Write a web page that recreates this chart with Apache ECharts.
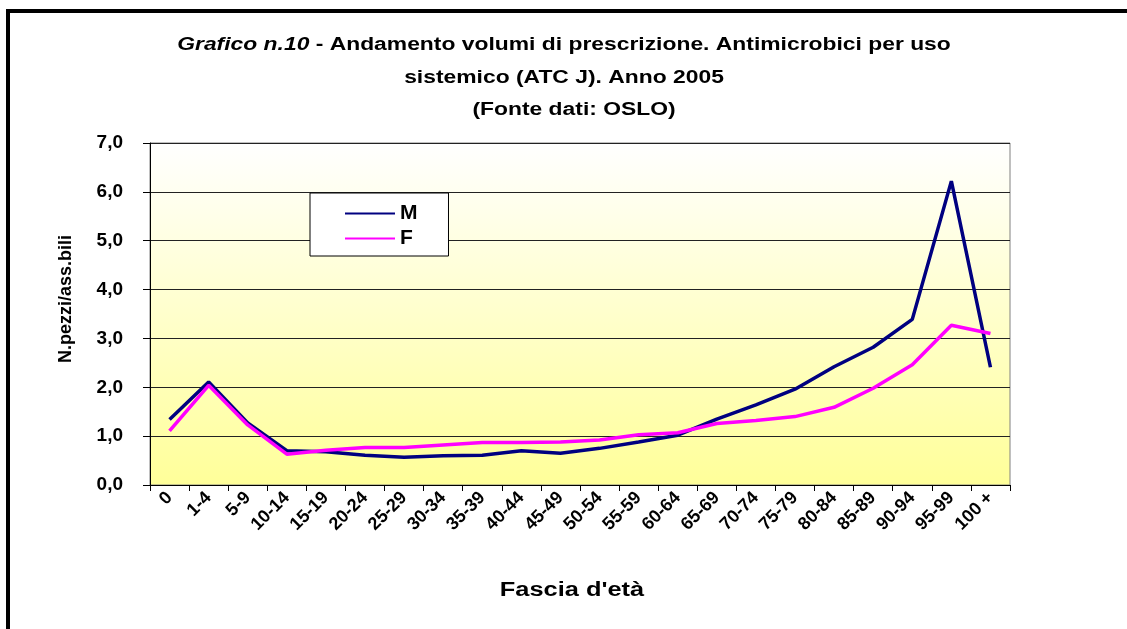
<!DOCTYPE html>
<html>
<head>
    <meta charset="utf-8">
    <title>Grafico n.10 - Antimicrobici per uso sistemico</title>
    <script src="https://cdn.jsdelivr.net/npm/echarts@6/dist/echarts.min.js"></script>
    <style>
        html, body { margin: 0; padding: 0; background: #fff; }
        #main { width: 1127px; height: 629px; }
    </style>
</head>
<body>
<div id="main"></div>
<script>
    // fasce d'età
    var ageGroups = ['0', '1-4', '5-9', '10-14', '15-19', '20-24', '25-29', '30-34', '35-39', '40-44',
        '45-49', '50-54', '55-59', '60-64', '65-69', '70-74', '75-79', '80-84', '85-89', '90-94', '95-99', '100 +'];
    // N. pezzi / assistibili
    var maleValues = [1.34, 2.11, 1.27, 0.70, 0.68, 0.61, 0.57, 0.60, 0.61, 0.70, 0.65,
        0.75, 0.88, 1.02, 1.35, 1.64, 1.96, 2.42, 2.82, 3.39, 6.22, 2.41];
    var femaleValues = [1.11, 2.04, 1.23, 0.63, 0.71, 0.77, 0.77, 0.82, 0.87, 0.87, 0.88,
        0.92, 1.03, 1.07, 1.26, 1.32, 1.40, 1.59, 1.98, 2.46, 3.27, 3.10];
    var yTicks = [0, 1, 2, 3, 4, 5, 6, 7];

    var font = '"Liberation Sans", Arial, sans-serif';
    // il grafico originale ha caratteri più larghi: allargo i testi liberi
    var wide = 1.27;
    var chart = echarts.init(document.getElementById('main'));

    var option = {
        backgroundColor: '#ffffff',
        animation: false,
        graphic: [
            {
                type: 'rect',
                silent: true,
                shape: { x: 8, y: 11, width: 1300, height: 800 },
                style: { fill: 'none', stroke: '#000', lineWidth: 4 }
            },
            {
                type: 'text',
                x: 564, y: 45, scaleX: wide,
                style: {
                    text: '{i|Grafico n.10}{b| - Andamento volumi di prescrizione. Antimicrobici per uso}',
                    align: 'center', verticalAlign: 'middle',
                    rich: {
                        i: { fontFamily: font, fontSize: 18, fontWeight: 'bold', fontStyle: 'italic', fill: '#000' },
                        b: { fontFamily: font, fontSize: 18, fontWeight: 'bold', fill: '#000' }
                    }
                }
            },
            {
                type: 'text',
                x: 564, y: 78, scaleX: wide,
                style: {
                    text: 'sistemico (ATC J). Anno 2005',
                    align: 'center', verticalAlign: 'middle',
                    fontFamily: font, fontSize: 18, fontWeight: 'bold', fill: '#000'
                }
            },
            {
                type: 'text',
                x: 574, y: 110, scaleX: wide,
                style: {
                    text: '(Fonte dati: OSLO)',
                    align: 'center', verticalAlign: 'middle',
                    fontFamily: font, fontSize: 18, fontWeight: 'bold', fill: '#000'
                }
            },
            {
                type: 'text',
                x: 66, y: 299,
                rotation: Math.PI / 2,
                style: {
                    text: 'N.pezzi/ass.bili',
                    align: 'center', verticalAlign: 'middle',
                    fontFamily: font, fontSize: 18, fontWeight: 'bold', fill: '#000'
                }
            },
            {
                type: 'text',
                x: 572, y: 590, scaleX: wide,
                style: {
                    text: "Fascia d'età",
                    align: 'center', verticalAlign: 'middle',
                    fontFamily: font, fontSize: 20, fontWeight: 'bold', fill: '#000'
                }
            }
        ],
        legend: {
            orient: 'vertical',
            left: 310,
            top: 193,
            padding: [10, 31, 7, 35],
            itemWidth: 50,
            itemHeight: 20,
            itemGap: 4,
            itemTextGap: 5,
            backgroundColor: '#ffffff',
            borderColor: '#000',
            borderWidth: 1,
            borderRadius: 0,
            icon: 'path://M0,9 L50,9 L50,11 L0,11 Z',
            textStyle: { fontFamily: font, fontSize: 21, fontWeight: 'bold', color: '#000' },
            data: ['M', 'F']
        },
        grid: {
            left: 150,
            right: 117,
            top: 143,
            bottom: 144,
            show: true,
            borderColor: '#808080',
            borderWidth: 1,
            backgroundColor: new echarts.graphic.LinearGradient(0, 0, 0, 1, [
                { offset: 0, color: '#ffffff' },
                { offset: 1, color: '#ffff99' }
            ])
        },
        xAxis: {
            type: 'category',
            data: ageGroups,
            boundaryGap: true,
            axisLine: { lineStyle: { color: '#000', width: 1 } },
            axisTick: { show: true, interval: 0, length: 6, lineStyle: { color: '#000' } },
            axisLabel: {
                interval: 0,
                rotate: 45,
                margin: 10,
                fontFamily: font, fontSize: 18, fontWeight: 'bold', color: '#000'
            },
            splitLine: { show: false }
        },
        yAxis: {
            type: 'value',
            min: yTicks[0],
            max: yTicks[yTicks.length - 1],
            interval: 1,
            axisLine: { show: true, lineStyle: { color: '#000', width: 1 } },
            axisTick: { show: true, inside: false, length: 7, lineStyle: { color: '#000' } },
            axisLabel: {
                margin: 27,
                fontFamily: font, fontSize: 19, fontWeight: 'bold', color: '#000',
                formatter: function (v) { return v.toFixed(1).replace('.', ','); }
            },
            splitLine: { show: true, lineStyle: { color: '#222', width: 1 } }
        },
        series: [
            {
                name: 'M',
                type: 'line',
                data: maleValues,
                symbol: 'none',
                lineStyle: { color: '#000080', width: 3.5 },
                itemStyle: { color: '#000080' }
            },
            {
                name: 'F',
                type: 'line',
                data: femaleValues,
                symbol: 'none',
                lineStyle: { color: '#ff00ff', width: 3.5 },
                itemStyle: { color: '#ff00ff' }
            }
        ]
    };

    chart.setOption(option);
</script>
</body>
</html>
